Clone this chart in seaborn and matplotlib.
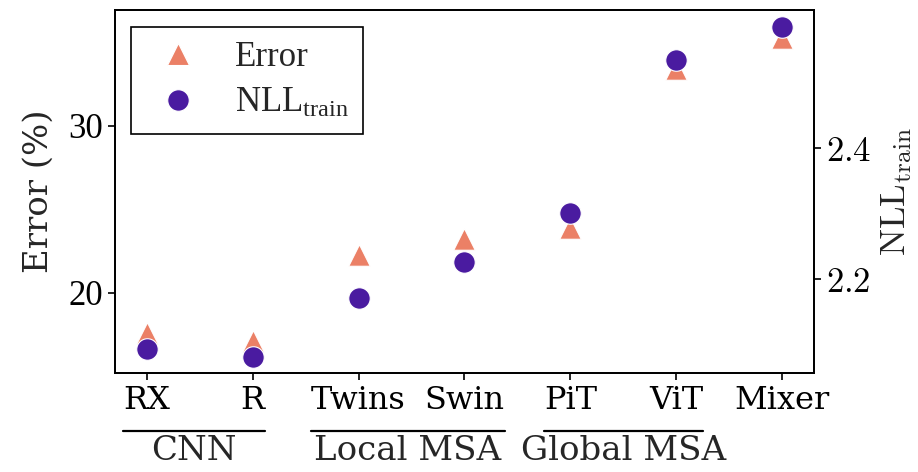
import matplotlib
matplotlib.use("Agg")
import matplotlib.pyplot as plt
import seaborn as sns
import pandas as pd
from matplotlib.lines import Line2D

models = ["RX", "R", "Twins", "Swin", "PiT", "ViT", "Mixer"]
error = [17.6, 17.1, 22.3, 23.2, 23.9, 33.4, 35.3]
nll_train = [2.093, 2.081, 2.171, 2.226, 2.301, 2.535, 2.585]
groups = ["CNN", "Local MSA", "Global MSA"]
group_members = [["RX", "R"], ["Twins", "Swin"], ["PiT", "ViT"]]
left_ticks = [20, 30]
right_ticks = [2.2, 2.4]

sns.set_style("ticks")
plt.rcParams["font.family"] = ["Liberation Serif", "DejaVu Serif"]
plt.rcParams["mathtext.fontset"] = "custom"
plt.rcParams["mathtext.rm"] = "Liberation Serif"
plt.rcParams["mathtext.it"] = "Liberation Serif:italic"

WIDE = ["DejaVu Serif"]
c_err = "#EB8066"
c_nll = "#4A1BA0"

df = pd.DataFrame({"model": models, "error": error, "nll": nll_train})

fig = plt.figure(figsize=(9.18, 4.72), dpi=100)
ax = fig.add_axes([115 / 918, 1 - 373 / 472, (814 - 115) / 918, 363 / 472])
ax2 = ax.twinx()

sns.scatterplot(data=df, x="model", y="error", ax=ax, marker="^", s=240,
                color=c_err, edgecolor="white", linewidth=0.8, legend=False, zorder=3)
sns.scatterplot(data=df, x="model", y="nll", ax=ax2, marker="o", s=240,
                color=c_nll, edgecolor="white", linewidth=0.8, legend=False, zorder=3)

ax.set_xlim(-0.3, 6.3)
ax.set_ylim(15.2, 36.95)
ax2.set_ylim(2.0565, 2.611)
ax.set_yticks(left_ticks)
ax.set_yticklabels([str(t) for t in left_ticks], fontsize=25)
ax2.set_yticks(right_ticks)
ax2.set_yticklabels([f"${t:.1f}$" for t in right_ticks], math_fontfamily="cm", fontsize=25)
ax.set_xticks(range(len(models)))
ax.set_xticklabels(models, family=WIDE, fontsize=23)
ax.set_xlabel("")
ax.set_ylabel("Error (%)", family=WIDE, fontsize=24.5, labelpad=10)
ax2.set_ylabel(r"$\mathrm{NLL}_\mathrm{train}$", fontsize=26,
               math_fontfamily="cm", labelpad=6)

for a in (ax, ax2):
    a.tick_params(direction="out", length=5, width=1.2, colors="black")
    for sp in a.spines.values():
        sp.set_visible(True)
        sp.set_linewidth(1.3)
        sp.set_color("black")

h1 = Line2D([], [], marker="^", linestyle="none", markersize=15.5,
            markerfacecolor=c_err, markeredgecolor="white", markeredgewidth=0.8)
h2 = Line2D([], [], marker="o", linestyle="none", markersize=15.5,
            markerfacecolor=c_nll, markeredgecolor="white", markeredgewidth=0.8)
leg = ax2.legend([h1, h2], ["Error", r"$\mathrm{NLL}_\mathrm{train}$"],
                 loc="upper left", bbox_to_anchor=(0.023, 0.953), borderaxespad=0,
                 fontsize=25, frameon=True, fancybox=False, framealpha=1,
                 edgecolor="black", handletextpad=0.7, labelspacing=0.38,
                 borderpad=0.4, handlelength=1.9)
leg.get_frame().set_linewidth(1.2)

fig.canvas.draw()
renderer = fig.canvas.get_renderer()
labels = {t.get_text(): t for t in ax.get_xticklabels()}
W, H = fig.bbox.width, fig.bbox.height
line_y = 1 - 431 / H
for name, members in zip(groups, group_members):
    exts = [labels[m].get_window_extent(renderer) for m in members]
    x0 = min(e.x0 for e in exts) / W
    x1 = max(e.x1 for e in exts) / W
    fig.add_artist(Line2D([x0, x1], [line_y, line_y], transform=fig.transFigure,
                          color="black", linewidth=1.6))
    fig.text((x0 + x1) / 2, line_y - 4 / H, name, ha="center", va="top",
             family=WIDE, fontsize=24.5)

fig.savefig("out.png", dpi=100)
